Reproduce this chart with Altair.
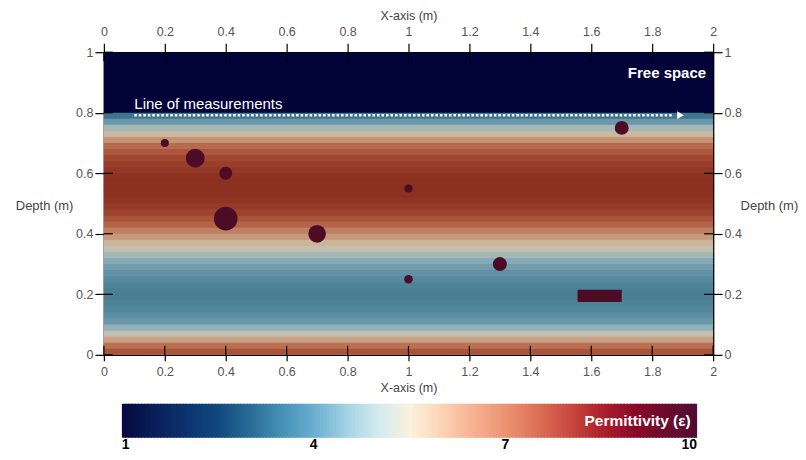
import altair as alt
import pandas as pd

FONT = "Liberation Sans"

# ---------------- data ----------------
# permittivity of the soil, in 0.02 m depth bands (band bottom, m)
band_bottom = [0.00, 0.02, 0.04, 0.06, 0.08, 0.10, 0.12, 0.14, 0.16, 0.18,
               0.20, 0.22, 0.24, 0.26, 0.28, 0.30, 0.32, 0.34, 0.36, 0.38,
               0.40, 0.42, 0.44, 0.46, 0.48, 0.50, 0.52, 0.54, 0.56, 0.58,
               0.60, 0.62, 0.64, 0.66, 0.68, 0.70, 0.72, 0.74, 0.76, 0.78]
band_eps = [7.4, 6.8, 6.1, 5.4, 4.7, 4.2, 3.9, 3.7, 3.6, 3.5,
            3.5, 3.6, 3.8, 4.0, 4.3, 4.6, 5.0, 5.4, 5.8, 6.2,
            6.6, 7.0, 7.4, 7.8, 8.1, 8.3, 8.5, 8.5, 8.5, 8.4,
            8.2, 8.0, 7.7, 7.3, 6.9, 6.3, 5.7, 5.0, 4.2, 3.2]
band_size = 0.02
# free space layer
free_bottom = [0.80]
free_top = [1.00]
free_eps = [1.0]

# buried circular objects (centre x, centre depth, radius; m)
obj_x = [0.2, 0.3, 0.4, 0.4, 0.7, 1.0, 1.0, 1.3, 1.7]
obj_y = [0.70, 0.65, 0.60, 0.45, 0.40, 0.55, 0.25, 0.30, 0.75]
obj_r = [0.015, 0.035, 0.024, 0.044, 0.033, 0.015, 0.016, 0.026, 0.026]

# buried rectangular object
rect_x = [1.555]
rect_x2 = [1.70]
rect_y = [0.175]
rect_y2 = [0.215]

# line of measurements
meas_x_start = [0.10]
meas_x_end = [1.87]
meas_y = [0.792]
arrow_x = [1.893]

x_ticks = [0, 0.2, 0.4, 0.6, 0.8, 1, 1.2, 1.4, 1.6, 1.8, 2]
y_ticks = [0, 0.2, 0.4, 0.6, 0.8, 1]
cbar_ticks_left = [1]
cbar_ticks_mid = [4, 7]
cbar_ticks_right = [10]

# colour maps
field_stops = [1, 2, 3, 3.5, 4.2, 4.8, 5.4, 5.8, 6.4, 7.0, 7.6, 8.2, 8.6, 10]
field_colors = ["#020338", "#163a62", "#386e8a", "#4a7f95", "#6a98aa", "#96b4bc",
                "#c4c0b0", "#ccb49a", "#c48c6c", "#b46448", "#a44a32", "#923826",
                "#8a2e1e", "#4a0c24"]
cbar_stops = [1, 1.5, 2, 2.5, 3, 3.5, 4, 4.5, 5, 5.5, 6, 6.5, 7, 7.5, 8, 8.5, 9, 9.5, 10]
cbar_colors = ["#050a40", "#0a1f5a", "#0b3470", "#12497f", "#2a6e98", "#4891b8",
               "#6cb0d2", "#a5d2e4", "#d4ebf0", "#fbf1dc", "#fcd2b4", "#f6b090",
               "#eb9270", "#dc6e55", "#c8483e", "#ac1f2c", "#8a0827", "#6c0a2e",
               "#4e0c33"]

# ---------------- tables ----------------
overlap = 0.004  # hides anti-aliasing seams between bands
bands = pd.DataFrame({
    "x0": 0.0, "x1": 2.0,
    "y0": band_bottom + free_bottom,
    "y1": [round(b + band_size + overlap, 3) for b in band_bottom] + free_top,
    "eps": band_eps + free_eps,
})
objs = pd.DataFrame({"x": obj_x, "y": obj_y, "r": obj_r})
rects = pd.DataFrame({"x": rect_x, "x2": rect_x2, "y": rect_y, "y2": rect_y2})
meas = pd.DataFrame({"x": meas_x_start, "x2": meas_x_end, "y": meas_y})
arrow = pd.DataFrame({"x": arrow_x, "y": meas_y})
xt = pd.DataFrame({"t": x_ticks})
yt = pd.DataFrame({"t": y_ticks})

W, H = 610, 303
xscale = alt.Scale(domain=[0, 2], nice=False, zero=False)
yscale = alt.Scale(domain=[0, 1], nice=False, zero=False)

common = dict(labelFont=FONT, labelFontSize=12.5, labelColor="#555",
              titleFont=FONT, titleColor="#444",
              titleFontWeight="normal", domainColor="black", domainWidth=1.5,
              tickColor="black", tickWidth=1.2, grid=False, format="~g",
              labelFlush=False)

ax_bottom = alt.Axis(orient="bottom", values=x_ticks, title="X-axis (m)", titleFontSize=12.5,
                     tickSize=6, labelPadding=5, titlePadding=3, **common)
ax_top = alt.Axis(orient="top", values=x_ticks, title="X-axis (m)", titleFontSize=12.5,
                  tickSize=9, labelPadding=5, titlePadding=3, **common)
ax_left = alt.Axis(orient="left", values=y_ticks, title="Depth (m)", titleFontSize=13,
                   tickSize=9, labelPadding=2, titleAngle=0, titleAlign="right",
                   titleBaseline="middle", titleX=-31, titleY=153, **common)
ax_right = alt.Axis(orient="right", values=y_ticks, title="Depth (m)", titleFontSize=13,
                    tickSize=9, labelPadding=2, titleAngle=0, titleAlign="left",
                    titleBaseline="middle", titleX=27, titleY=153, **common)

field = alt.Chart(bands).mark_rect().encode(
    x=alt.X("x0:Q", scale=xscale, axis=ax_bottom),
    x2="x1:Q",
    y=alt.Y("y0:Q", scale=yscale, axis=ax_left),
    y2="y1:Q",
    color=alt.Color("eps:Q", legend=None,
                    scale=alt.Scale(domain=field_stops, range=field_colors,
                                    interpolate="rgb")),
)

circles = alt.Chart(objs).mark_circle(color="#4c0c25", opacity=1).encode(
    x=alt.X("x:Q", scale=xscale, axis=ax_top),
    y=alt.Y("y:Q", scale=yscale, axis=ax_right),
    size=alt.Size("r:Q", legend=None,
                  scale=alt.Scale(type="pow", exponent=2, domain=[0, 0.05],
                                  range=[0, 3.14159 * (0.05 * H) ** 2])),
)

box = alt.Chart(rects).mark_rect(color="#4c0c25").encode(
    x=alt.X("x:Q", scale=xscale, axis=None), x2="x2:Q",
    y=alt.Y("y:Q", scale=yscale, axis=None), y2="y2:Q",
)

line = alt.Chart(meas).mark_rule(color="white", strokeDash=[2.5, 2], strokeWidth=2.5).encode(
    x=alt.X("x:Q", scale=xscale, axis=None), x2="x2:Q",
    y=alt.Y("y:Q", scale=yscale, axis=None),
)
arr = alt.Chart(arrow).mark_point(shape="triangle-right", filled=True, color="white",
                                  opacity=1, size=60).encode(
    x=alt.X("x:Q", scale=xscale, axis=None),
    y=alt.Y("y:Q", scale=yscale, axis=None),
)

txt_meas = alt.Chart(pd.DataFrame({"x": [0.1], "y": [0.83], "t": ["Line of measurements"]})).mark_text(
    align="left", baseline="middle", font=FONT, fontSize=15, color="white").encode(
    x=alt.X("x:Q", scale=xscale, axis=None), y=alt.Y("y:Q", scale=yscale, axis=None), text="t:N")
txt_free = alt.Chart(pd.DataFrame({"x": [1.977], "y": [0.931], "t": ["Free space"]})).mark_text(
    align="right", baseline="middle", font=FONT, fontSize=15, fontWeight="bold", color="white").encode(
    x=alt.X("x:Q", scale=xscale, axis=None), y=alt.Y("y:Q", scale=yscale, axis=None), text="t:N")

# inner halves of the crossing ticks
tick_len = 9
xt_top = alt.Chart(xt).mark_rule(color="black", strokeWidth=1.2).encode(
    x=alt.X("t:Q", scale=xscale, axis=None), y=alt.value(0), y2=alt.value(tick_len))
xt_bot = alt.Chart(xt).mark_rule(color="black", strokeWidth=1.2).encode(
    x=alt.X("t:Q", scale=xscale, axis=None), y=alt.value(H - tick_len), y2=alt.value(H))
yt_left = alt.Chart(yt).mark_rule(color="black", strokeWidth=1.2).encode(
    y=alt.Y("t:Q", scale=yscale, axis=None), x=alt.value(0), x2=alt.value(tick_len))
yt_right = alt.Chart(yt).mark_rule(color="black", strokeWidth=1.2).encode(
    y=alt.Y("t:Q", scale=yscale, axis=None), x=alt.value(W - tick_len), x2=alt.value(W))

main = alt.layer(field, circles, box, line, arr, txt_meas, txt_free,
                 xt_top, xt_bot, yt_left, yt_right).properties(width=W, height=H)

# ---------------- colour bar ----------------
step = 0.05
cb_v = [round(1 + i * step, 3) for i in range(180)]
cb = pd.DataFrame({"v": cb_v, "v2": [min(v + 0.07, 10) for v in cb_v]})
cb_scale = alt.Scale(domain=[1, 10], range=[18, 594], nice=False, zero=False)
CBH = 34
cbar_rect = alt.Chart(cb).mark_rect().encode(
    x=alt.X("v:Q", scale=cb_scale, axis=None),
    x2="v2:Q",
    y=alt.value(0), y2=alt.value(CBH),
    color=alt.Color("v:Q", legend=None,
                    scale=alt.Scale(domain=cbar_stops, range=cbar_colors, interpolate="rgb")),
)
cbar_text = alt.Chart(pd.DataFrame({"x": [9.9], "t": ["Permittivity (ε)"]})).mark_text(
    align="right", baseline="middle", font=FONT, fontSize=15.5, fontWeight="bold",
    color="white").encode(x=alt.X("x:Q", scale=cb_scale, axis=None),
                           y=alt.value(CBH / 2), text="t:N")


def cb_labels(vals, align):
    return alt.Chart(pd.DataFrame({"v": vals})).mark_text(
        align=align, baseline="middle", font=FONT, fontSize=14, fontWeight="bold",
        color="black").encode(x=alt.X("v:Q", scale=cb_scale, axis=None),
                               y=alt.value(CBH + 7), text=alt.Text("v:Q", format="d"))


cbar = alt.layer(cbar_rect, cbar_text,
                 cb_labels(cbar_ticks_left, "left"),
                 cb_labels(cbar_ticks_mid, "center"),
                 cb_labels(cbar_ticks_right, "right")).properties(width=W, height=CBH)

chart = alt.vconcat(main, cbar, spacing=10).resolve_scale(color="independent").configure_view(
    stroke=None).properties(padding={"left": 7, "top": 1, "right": 0, "bottom": 0})

chart.save("out.html", embed_options={"renderer": "svg", "actions": False})
